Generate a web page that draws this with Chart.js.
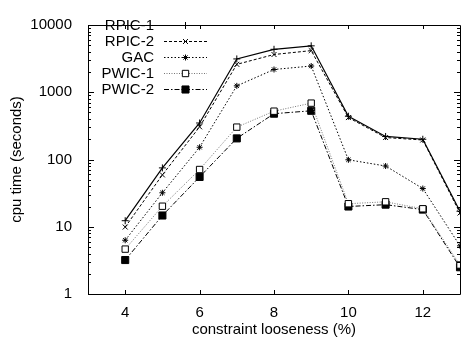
<!DOCTYPE html>
<html>
<head>
<meta charset="utf-8">
<script src="https://cdn.jsdelivr.net/npm/chart.js@4.4.0/dist/chart.umd.min.js"></script>
<style>
  html, body { margin: 0; padding: 0; background: #fff; }
  canvas { display: block; }
</style>
</head>
<body>
<canvas id="chart" width="466" height="347"></canvas>
<script>
"use strict";

// Data

const LOOSENESS = [4, 5, 6, 7, 8, 9, 10, 11, 12, 13];
const RPIC_1 = [12.3, 75, 349, 3130, 4350, 4900, 440, 220, 200, 17];
const RPIC_2 = [9.9, 59, 306, 2600, 3640, 4160, 420, 212, 195, 16];
const GAC    = [6.3, 32, 152, 1245, 2180, 2455, 99, 80, 37, 5.2];
const PWIC_1 = [4.65, 20.2, 71, 303, 523, 689, 22, 23.5, 18.5, 2.7];
const PWIC_2 = [3.2, 14.7, 55, 206, 480, 530, 20, 21.3, 18, 2.5];

const X_TICKS = [4, 6, 8, 10, 12];
const Y_TICKS = [1, 10, 100, 1000, 10000];

const FONT = "'Liberation Sans', Arial, sans-serif";
const FONT_SIZE = 15;

Chart.defaults.font.family = FONT;
Chart.defaults.font.size = FONT_SIZE;
Chart.defaults.color = "#000";

function points(values) {
    return LOOSENESS.map(function(x, i) {
        return { x: x, y: values[i] };
    });
}

function series(label, values, dash, width, style, radius, fill, color) {
    return {
        label: label,
        data: points(values),
        borderColor: color || "#000",
        borderWidth: width,
        borderDash: dash,
        pointStyle: style,
        pointRadius: radius,
        pointBorderWidth: 1,
        pointBorderColor: "#000",
        pointBackgroundColor: fill,
        tension: 0,
        fill: false
    };
}

// Frame and inward tic marks, gnuplot style

const framePlugin = {
    id: "frame",
    afterDraw: function(chart) {
        let ctx = chart.ctx;
        let a = chart.chartArea;
        let xs = chart.scales.x;
        let ys = chart.scales.y;
        ctx.save();
        ctx.strokeStyle = "#000";
        ctx.lineWidth = 1;
        ctx.setLineDash([]);
        ctx.beginPath();
        ctx.rect(a.left + 0.5, a.top + 0.5, a.right - a.left, a.bottom - a.top);
        ctx.stroke();

        ctx.beginPath();
        X_TICKS.forEach(function(v) {
            let px = Math.round(xs.getPixelForValue(v)) + 0.5;
            ctx.moveTo(px, a.bottom);
            ctx.lineTo(px, a.bottom - 4);
            ctx.moveTo(px, a.top);
            ctx.lineTo(px, a.top + 4);
        });
        for (let d = 1; d <= 10000; d *= 10) {
            for (let m = 1; m < 10; m++) {
                let v = d * m;
                if (v > 10000) break;
                let len = m === 1 ? 6 : 3;
                let py = Math.round(ys.getPixelForValue(v)) + 0.5;
                ctx.moveTo(a.left, py);
                ctx.lineTo(a.left + len, py);
                ctx.moveTo(a.right, py);
                ctx.lineTo(a.right - len, py);
            }
        }
        ctx.stroke();
        ctx.restore();
    }
};

// Legend in the top left corner, text right aligned before the sample

const legendPlugin = {
    id: "keyBox",
    afterDraw: function(chart) {
        let ctx = chart.ctx;
        let textRight = 154;
        let lineStart = 164;
        let lineEnd = 207;
        let top = 25;
        let step = 16;
        ctx.save();
        ctx.font = FONT_SIZE + "px " + FONT;
        ctx.textAlign = "right";
        ctx.textBaseline = "middle";
        chart.data.datasets.forEach(function(ds, i) {
            let y = top + i * step + 0.5;
            ctx.fillStyle = "#000";
            ctx.fillText(ds.label, textRight, y);
            ctx.strokeStyle = ds.borderColor;
            ctx.lineWidth = ds.borderWidth;
            ctx.setLineDash(ds.borderDash);
            ctx.beginPath();
            ctx.moveTo(lineStart, y);
            ctx.lineTo(lineEnd, y);
            ctx.stroke();
            ctx.setLineDash([]);
            ctx.lineWidth = 1;
            ctx.strokeStyle = "#000";
            ctx.fillStyle = ds.pointBackgroundColor;
            Chart.helpers.drawPoint(ctx, {
                pointStyle: ds.pointStyle,
                radius: ds.pointRadius,
                borderWidth: 1,
                rotation: 0
            }, (lineStart + lineEnd) / 2, y);
        });
        ctx.restore();
    }
};

let ctx = document.getElementById("chart").getContext("2d");

let chart = new Chart(ctx, {
    type: "line",
    data: {
        datasets: [
            series("RPIC-1", RPIC_1, [], 1.2, "cross", 3.5, "#000"),
            series("RPIC-2", RPIC_2, [3, 2], 1, "crossRot", 3.5, "#000"),
            series("GAC", GAC, [1.5, 2], 1, "star", 3, "#000"),
            series("PWIC-1", PWIC_1, [1, 1.5], 1, "rect", 4.5, "#fff", "#777"),
            series("PWIC-2", PWIC_2, [5, 2, 1.5, 2], 1, "rect", 5, "#000")
        ]
    },
    options: {
        responsive: false,
        animation: false,
        layout: {
            padding: { top: 14, right: -1, bottom: 0, left: 0 }
        },
        plugins: {
            legend: { display: false },
            tooltip: { enabled: false }
        },
        scales: {
            x: {
                type: "linear",
                min: 3,
                max: 13,
                grid: { display: false, drawTicks: false },
                border: { display: false },
                afterBuildTicks: function(scale) {
                    scale.ticks = X_TICKS.map(function(v) { return { value: v }; });
                },
                afterFit: function(scale) {
                    scale.height = 53;
                },
                ticks: {
                    autoSkip: false,
                    maxRotation: 0,
                    padding: 10,
                    color: "#000"
                },
                title: {
                    display: true,
                    text: "constraint looseness (%)",
                    color: "#000",
                    padding: { top: 4, bottom: 8 }
                }
            },
            y: {
                type: "logarithmic",
                min: 1,
                max: 10000,
                grid: { display: false, drawTicks: false },
                border: { display: false },
                afterBuildTicks: function(scale) {
                    scale.ticks = Y_TICKS.map(function(v) { return { value: v }; });
                },
                afterFit: function(scale) {
                    scale.width = 88;
                },
                ticks: {
                    autoSkip: false,
                    padding: 16,
                    color: "#000",
                    callback: function(v) { return String(v); }
                },
                title: {
                    display: true,
                    text: "cpu time (seconds)",
                    color: "#000",
                    padding: { top: 8, bottom: 4 }
                }
            }
        }
    },
    plugins: [framePlugin, legendPlugin]
});
</script>
</body>
</html>
